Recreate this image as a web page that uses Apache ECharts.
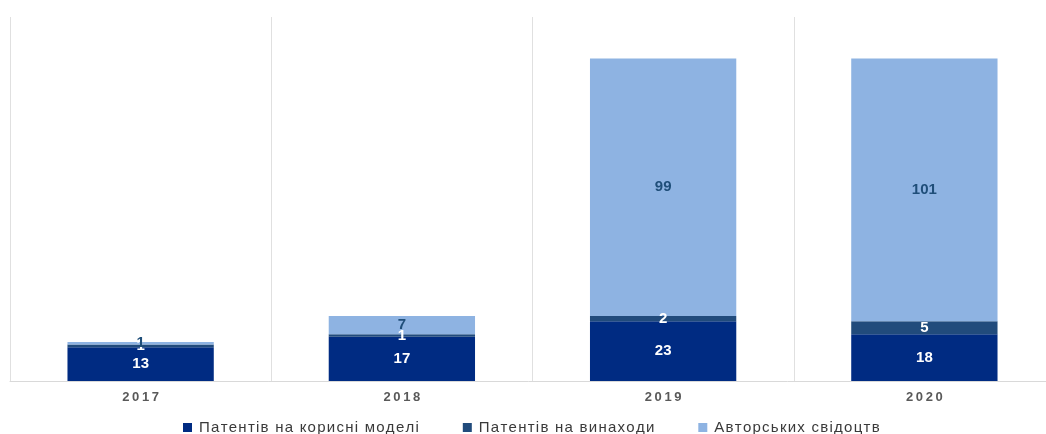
<!DOCTYPE html>
<html><head><meta charset="utf-8">
<script src="https://cdn.jsdelivr.net/npm/echarts@6/dist/echarts.min.js"></script>
<style>html,body{margin:0;padding:0;background:#fff}#c{width:1046px;height:434px}</style>
</head><body><div id="c"></div>
<script>
const categories = ['2017', '2018', '2019', '2020'];
const seriesNames = ['Патентів на корисні моделі', 'Патентів на винаходи', 'Авторських свідоцтв'];
const utilityModels = [13, 17, 23, 18];
const inventions = [1, 1, 2, 5];
const certificates = [1, 7, 99, 101];

const colors = ['#002b82', '#214b7c', '#8eb3e2'];
const labelColors = ['#ffffff', '#ffffff', '#1f4e79'];
const data = [utilityModels, inventions, certificates];

const spaced = (s, sp) => s.split('').join(sp);

const chart = echarts.init(document.getElementById('c'));
chart.setOption({
  animation: false,
  grid: { left: 10, width: 1045, top: 17, bottom: 53, outerBoundsMode: 'none', containLabel: false },
  legend: {
    top: 420, left: 183, padding: 0, itemWidth: 9, itemHeight: 9, itemGap: 44,
    icon: 'rect',
    formatter: n => spaced(n, '\u200A'),
    textStyle: { fontFamily: 'Liberation Sans, Arial', fontSize: 15, color: '#3a3a3a', padding: [0, 0, 0, 2] },
    data: seriesNames
  },
  xAxis: {
    type: 'category', data: categories,
    axisTick: { show: false },
    axisLine: { lineStyle: { color: '#d9d9d9' } },
    splitLine: { show: true, lineStyle: { color: '#e0e0e0' } },
    axisLabel: { fontFamily: 'Liberation Sans, Arial', fontSize: 13, fontWeight: 'bold', color: '#595959', margin: 10,
      formatter: v => spaced(v, '\u2009') }
  },
  yAxis: { type: 'value', min: 0, max: 140, show: false, splitLine: { show: false } },
  series: seriesNames.map((n, i) => ({
    name: n, type: 'bar', stack: 'a', barWidth: '56%',
    data: data[i],
    itemStyle: { color: colors[i] },
    label: { show: true, position: 'inside', color: labelColors[i],
      fontFamily: 'Liberation Sans, Arial', fontSize: 15, fontWeight: 'bold' }
  }))
});
</script></body></html>
